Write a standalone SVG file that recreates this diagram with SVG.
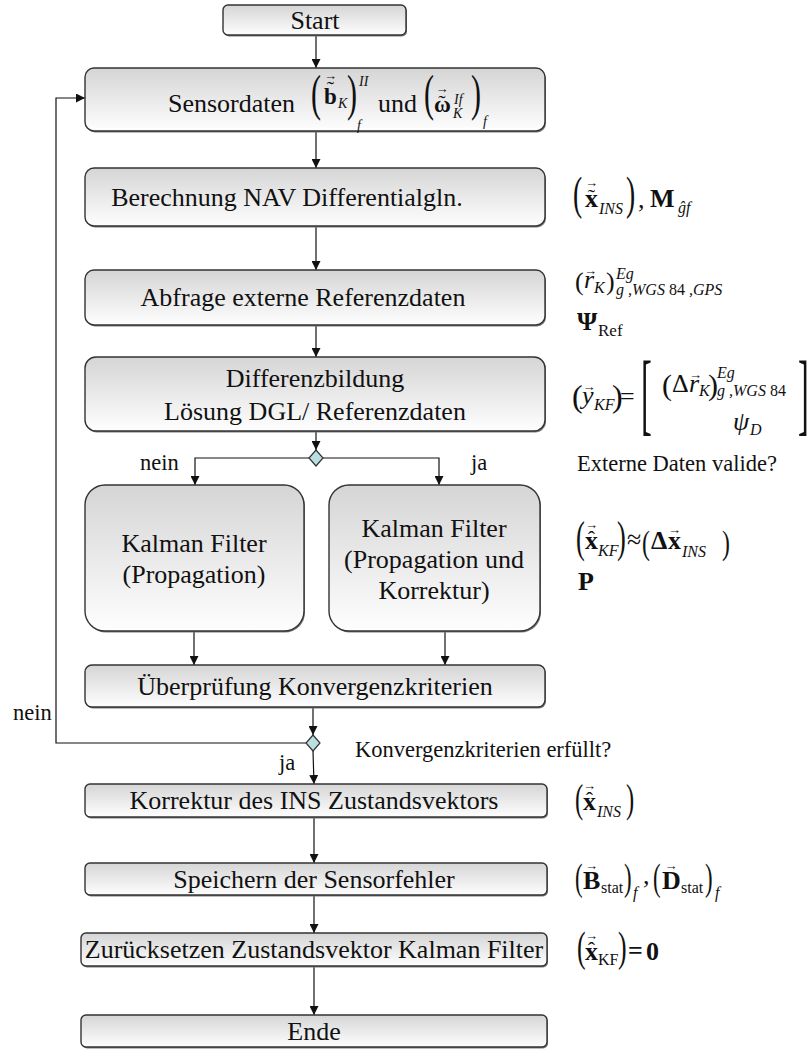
<svg xmlns="http://www.w3.org/2000/svg" width="809" height="1050" viewBox="0 0 809 1050">
  <defs>
    <linearGradient id="boxFill" x1="0" y1="0" x2="0" y2="1">
      <stop offset="0" stop-color="#d5d5d5"/>
      <stop offset="1" stop-color="#fefefe"/>
    </linearGradient>
    <marker id="arrow" viewBox="0 0 10 10" refX="10" refY="5" markerWidth="9" markerHeight="9" markerUnits="userSpaceOnUse" orient="auto">
      <path d="M0,0 L10,5 L0,10 z" fill="#111"/>
    </marker>
  </defs>
  <style>
    .box { fill: url(#boxFill); stroke: #333; stroke-width: 1.4; }
    .shadow { fill: #7a7a7a; stroke: none; }
    .t { font-family: "Liberation Serif", "Times New Roman", serif; font-size: 26px; fill: #111; text-anchor: middle; }
    .lbl { font-family: "Liberation Serif", "Times New Roman", serif; font-size: 22.5px; fill: #111; }
    .m { font-family: "Liberation Serif", "Times New Roman", serif; fill: #111; }
    .b { font-weight: bold; }
    .i { font-style: italic; }
    .acc { font-family: "Liberation Serif", "Times New Roman", serif; fill: #111; text-anchor: middle; }
    .vec { font-size: 13px; }
    .til { font-size: 22px; }
    .conn { fill: none; stroke: #111; stroke-width: 1.2; }
    .dec { fill: #b9dfe0; stroke: #333; stroke-width: 1.2; }
  </style>

  <!-- connectors -->
  <g id="connectors">
    <path class="conn" d="M316,35 V68" marker-end="url(#arrow)"/>
    <path class="conn" d="M316,131 V168" marker-end="url(#arrow)"/>
    <path class="conn" d="M316,226 V270" marker-end="url(#arrow)"/>
    <path class="conn" d="M316,325 V357" marker-end="url(#arrow)"/>
    <path class="conn" d="M316,431 V450" marker-end="url(#arrow)"/>
    <path class="conn" d="M309,458 H195 V485" marker-end="url(#arrow)"/>
    <path class="conn" d="M323,458 H439 V485" marker-end="url(#arrow)"/>
    <path class="conn" d="M194,632 V665" marker-end="url(#arrow)"/>
    <path class="conn" d="M445,632 V665" marker-end="url(#arrow)"/>
    <path class="conn" d="M313,708 V735" marker-end="url(#arrow)"/>
    <path class="conn" d="M306,743 H56 V98 H85" marker-end="url(#arrow)"/>
    <path class="conn" d="M313,751 L314,784" marker-end="url(#arrow)"/>
    <path class="conn" d="M314,818 V863" marker-end="url(#arrow)"/>
    <path class="conn" d="M314,896 V933" marker-end="url(#arrow)"/>
    <path class="conn" d="M314,967 V1015" marker-end="url(#arrow)"/>
  </g>

  <!-- decision diamonds -->
  <g id="dec-extern">
    <path class="dec" d="M316,450 L323,458 L316,466 L309,458 Z"/>
  </g>
  <g id="dec-konvergenz">
    <path class="dec" d="M313,735 L320,743 L313,751 L306,743 Z"/>
  </g>

  <!-- branch labels -->
  <g id="labels">
    <text class="lbl" x="140" y="470">nein</text>
    <text class="lbl" x="471" y="470">ja</text>
    <text class="lbl" x="577" y="471">Externe Daten valide?</text>
    <text class="lbl" x="13" y="720">nein</text>
    <text class="lbl" x="279" y="770">ja</text>
    <text class="lbl" x="355" y="757">Konvergenzkriterien erfüllt?</text>
  </g>

  <g id="start">
    <rect class="shadow" x="224" y="6.5" width="183" height="30" rx="5"/>
    <rect class="box" x="223" y="5" width="183" height="30" rx="5"/>
    <text class="t" x="315" y="29">Start</text>
  </g>

  <g id="sensordaten">
    <rect class="shadow" x="86" y="69.5" width="460" height="63" rx="9"/>
    <rect class="box" x="85" y="68" width="460" height="63" rx="9"/>
    <g class="m" font-size="26">
      <text x="168" y="112">Sensordaten</text>
      <text font-size="50" transform="translate(311,110) scale(0.6,1)">(</text>
      <text class="b" x="324" y="104" font-size="23">b</text>
      <text class="acc til" x="330.5" y="95.5">˜</text>
      <text class="acc vec" x="330.5" y="80">→</text>
      <text class="i" x="338" y="108" font-size="14">K</text>
      <text font-size="50" transform="translate(347,110) scale(0.6,1)">)</text>
      <text class="i" x="359" y="86" font-size="14">II</text>
      <text class="i" x="357" y="130" font-size="14">f</text>
      <text x="378" y="112">und</text>
      <text font-size="50" transform="translate(424,110) scale(0.6,1)">(</text>
      <text class="b" x="434" y="112" font-size="23">ω</text>
      <text class="acc til" x="442" y="109.5">˜</text>
      <text class="acc vec" x="442" y="93">→</text>
      <text class="i" x="454" y="104" font-size="14">If</text>
      <text class="i" x="453" y="118" font-size="14">K</text>
      <text font-size="50" transform="translate(471,110) scale(0.6,1)">)</text>
      <text class="i" x="483" y="126" font-size="14">f</text>
    </g>
  </g>

  <g id="berechnung">
    <rect class="shadow" x="86" y="169.5" width="460" height="58" rx="9"/>
    <rect class="box" x="85" y="168" width="460" height="58" rx="9"/>
    <text class="t" x="287" y="206">Berechnung NAV Differentialgln.</text>
  </g>
  <g id="berechnung-math" class="m" font-size="26">
    <text font-size="46" transform="translate(573,209) scale(0.6,1)">(</text>
    <text class="b" x="585" y="207">x</text>
    <text class="acc til" x="591.5" y="203.5">˜</text>
    <text class="acc vec" x="591.5" y="187">→</text>
    <text class="i" x="599" y="214" font-size="16">INS</text>
    <text font-size="46" transform="translate(626,209) scale(0.6,1)">)</text>
    <text x="638" y="208">,</text>
    <text class="b" x="650" y="207">M</text>
    <text class="i" x="678" y="213" font-size="16">ĝf</text>
  </g>

  <g id="abfrage">
    <rect class="shadow" x="86" y="271.5" width="460" height="55" rx="9"/>
    <rect class="box" x="85" y="270" width="460" height="55" rx="9"/>
    <text class="t" x="303" y="306">Abfrage externe Referenzdaten</text>
  </g>
  <g id="abfrage-math" class="m" font-size="26">
    <text x="575" y="290">(</text>
    <text class="i" x="584" y="288">r</text>
    <text class="acc vec" x="590.5" y="275">→</text>
    <text class="i" x="594" y="293" font-size="16">K</text>
    <text x="606" y="290">)</text>
    <text class="i" x="616" y="279" font-size="16">Eg</text>
    <text x="616" y="295" font-size="16"><tspan class="i">g ,WGS</tspan> 84 <tspan class="i">,GPS</tspan></text>
    <text class="b" x="577" y="330">Ψ</text>
    <text x="598" y="336" font-size="17">Ref</text>
  </g>

  <g id="differenz">
    <rect class="shadow" x="86" y="358.5" width="460" height="74" rx="11"/>
    <rect class="box" x="85" y="357" width="460" height="74" rx="11"/>
    <text class="t" x="315" y="387">Differenzbildung</text>
    <text class="t" x="315" y="420">Lösung DGL/ Referenzdaten</text>
  </g>
  <g id="differenz-math" class="m" font-size="26">
    <text font-size="32" x="572" y="407">(</text>
    <text class="i" x="582" y="404">y</text>
    <text class="acc vec" x="589" y="391">→</text>
    <text class="i" x="594" y="410" font-size="16">KF</text>
    <text font-size="32" x="612" y="407">)</text>
    <text x="620" y="405">=</text>
    <text font-size="90" transform="translate(641,424) scale(0.36,1)">[</text>
    <text font-size="30" x="662" y="395">(</text>
    <text x="672" y="392">Δ</text>
    <text class="i" x="689" y="392">r</text>
    <text class="acc vec" x="695.5" y="379">→</text>
    <text class="i" x="699" y="396" font-size="16">K</text>
    <text font-size="30" x="708" y="395">)</text>
    <text class="i" x="717" y="378" font-size="16">Eg</text>
    <text x="717" y="396" font-size="16"><tspan class="i">g ,WGS</tspan> 84</text>
    <text class="i" x="733" y="430">ψ</text>
    <text class="i" x="750" y="435" font-size="16">D</text>
    <text font-size="90" transform="translate(798,424) scale(0.36,1)">]</text>
  </g>

  <g id="kalman-prop">
    <rect class="shadow" x="86" y="486.5" width="219" height="146" rx="20"/>
    <rect class="box" x="85" y="485" width="219" height="146" rx="20"/>
    <text class="t" x="194" y="552">Kalman Filter</text>
    <text class="t" x="194" y="583">(Propagation)</text>
  </g>
  <g id="kalman-korr">
    <rect class="shadow" x="330" y="486.5" width="211" height="146" rx="20"/>
    <rect class="box" x="329" y="485" width="211" height="146" rx="20"/>
    <text class="t" x="434" y="537">Kalman Filter</text>
    <text class="t" x="434" y="568">(Propagation und</text>
    <text class="t" x="434" y="599">Korrektur)</text>
  </g>
  <g id="kalman-math" class="m" font-size="26">
    <text font-size="44" transform="translate(576,552) scale(0.6,1)">(</text>
    <text class="b" x="585" y="549">x</text>
    <text class="acc til" x="591.5" y="546">ˆ</text>
    <text class="acc vec" x="591.5" y="529">→</text>
    <text class="i" x="598" y="556" font-size="16">KF</text>
    <text font-size="44" transform="translate(617,552) scale(0.6,1)">)</text>
    <text x="627" y="548">≈</text>
    <text font-size="34" transform="translate(642,554) scale(0.7,1)">(</text>
    <text class="b" x="651" y="549">Δ</text>
    <text class="b" x="668" y="549">x</text>
    <text class="acc vec" x="674.5" y="534">→</text>
    <text class="i" x="682" y="557" font-size="16">INS</text>
    <text font-size="34" transform="translate(722,554) scale(0.7,1)">)</text>
    <text class="b" x="578" y="590">P</text>
  </g>

  <g id="pruefung">
    <rect class="shadow" x="86" y="666.5" width="460" height="42" rx="7"/>
    <rect class="box" x="85" y="665" width="460" height="42" rx="7"/>
    <text class="t" x="315" y="695">Überprüfung Konvergenzkriterien</text>
  </g>

  <g id="korrektur">
    <rect class="shadow" x="86" y="785.5" width="462" height="33" rx="5"/>
    <rect class="box" x="85" y="784" width="462" height="33" rx="5"/>
    <text class="t" x="314" y="809">Korrektur des INS Zustandsvektors</text>
  </g>
  <g id="korrektur-math" class="m" font-size="26">
    <text font-size="41" transform="translate(575,812) scale(0.6,1)">(</text>
    <text class="b" x="583" y="810">x</text>
    <text class="acc til" x="589.5" y="807">ˆ</text>
    <text class="acc vec" x="589.5" y="790">→</text>
    <text class="i" x="597" y="817" font-size="16">INS</text>
    <text font-size="41" transform="translate(626,812) scale(0.6,1)">)</text>
  </g>

  <g id="speichern">
    <rect class="shadow" x="86" y="864.5" width="462" height="32" rx="5"/>
    <rect class="box" x="85" y="863" width="462" height="32" rx="5"/>
    <text class="t" x="314" y="888">Speichern der Sensorfehler</text>
  </g>
  <g id="speichern-math" class="m" font-size="26">
    <text font-size="38" transform="translate(575,890) scale(0.6,1)">(</text>
    <text class="b" x="583" y="889">B</text>
    <text class="acc vec" x="591.5" y="870">→</text>
    <text x="601" y="893" font-size="16">stat</text>
    <text font-size="38" transform="translate(624,890) scale(0.6,1)">)</text>
    <text class="i" x="633" y="898" font-size="16">f</text>
    <text x="643" y="884">,</text>
    <text font-size="38" transform="translate(653,890) scale(0.6,1)">(</text>
    <text class="b" x="662" y="889">D</text>
    <text class="acc vec" x="671" y="870">→</text>
    <text x="681" y="893" font-size="16">stat</text>
    <text font-size="38" transform="translate(705,890) scale(0.6,1)">)</text>
    <text class="i" x="715" y="898" font-size="16">f</text>
  </g>

  <g id="zuruecksetzen">
    <rect class="shadow" x="82" y="934.5" width="466" height="33" rx="5"/>
    <rect class="box" x="81" y="933" width="466" height="33" rx="5"/>
    <text class="t" x="314" y="958">Zurücksetzen Zustandsvektor Kalman Filter</text>
  </g>
  <g id="zuruecksetzen-math" class="m" font-size="26">
    <text font-size="43" transform="translate(577,961) scale(0.6,1)">(</text>
    <text class="b" x="585" y="960">x</text>
    <text class="acc til" x="591.5" y="957">ˆ</text>
    <text class="acc vec" x="591.5" y="940">→</text>
    <text x="598" y="965" font-size="16">KF</text>
    <text font-size="43" transform="translate(618,961) scale(0.6,1)">)</text>
    <text class="b" x="628" y="959">=</text>
    <text class="b" x="646" y="960">0</text>
  </g>

  <g id="ende">
    <rect class="shadow" x="82" y="1016.5" width="466" height="32" rx="5"/>
    <rect class="box" x="81" y="1015" width="466" height="32" rx="5"/>
    <text class="t" x="314" y="1040">Ende</text>
  </g>
</svg>
